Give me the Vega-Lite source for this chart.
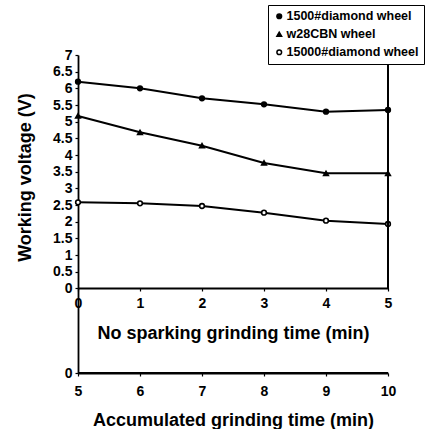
{
  "$schema": "https://vega.github.io/schema/vega-lite/v6.json",
  "width": 310,
  "height": 318,
  "autosize": "none",
  "padding": {"left": 78, "top": 55, "right": 39, "bottom": 56},
  "config": {
    "view": {"stroke": null},
    "font": "Liberation Sans",
    "axis": {
      "domainColor": "black", "tickColor": "black", "labelColor": "black", "titleColor": "black",
      "labelFont": "Liberation Sans", "labelFontWeight": "bold", "labelFontSize": 14,
      "titleFont": "Liberation Sans", "titleFontSize": 18, "titleFontWeight": "bold",
      "grid": false, "domainWidth": 1.8, "tickWidth": 1.2, "labelOverlap": false, "labelFlush": false
    },
    "axisY": {"labelOverlap": false},
    "axisQuantitative": {"labelOverlap": false},
    "legend": {
      "title": null, "orient": "none", "legendX": 190, "legendY": -50,
      "strokeColor": "black", "fillColor": "white", "padding": 5,
      "labelFontSize": 12.5, "labelFontWeight": "bold", "labelColor": "black", "labelFont": "Liberation Sans",
      "rowPadding": 5, "symbolStrokeColor": "black", "symbolStrokeWidth": 1.5, "labelOffset": 1
    }
  },
  "data": {
    "values": [
      {"series": "1500#diamond wheel", "t": 0, "v": 6.2},
      {"series": "1500#diamond wheel", "t": 1, "v": 6.0},
      {"series": "1500#diamond wheel", "t": 2, "v": 5.7},
      {"series": "1500#diamond wheel", "t": 3, "v": 5.52},
      {"series": "1500#diamond wheel", "t": 4, "v": 5.3},
      {"series": "1500#diamond wheel", "t": 5, "v": 5.35},
      {"series": "w28CBN wheel", "t": 0, "v": 5.17},
      {"series": "w28CBN wheel", "t": 1, "v": 4.68},
      {"series": "w28CBN wheel", "t": 2, "v": 4.28},
      {"series": "w28CBN wheel", "t": 3, "v": 3.76},
      {"series": "w28CBN wheel", "t": 4, "v": 3.45},
      {"series": "w28CBN wheel", "t": 5, "v": 3.45},
      {"series": "15000#diamond wheel", "t": 0, "v": 2.58},
      {"series": "15000#diamond wheel", "t": 1, "v": 2.55},
      {"series": "15000#diamond wheel", "t": 2, "v": 2.47},
      {"series": "15000#diamond wheel", "t": 3, "v": 2.27},
      {"series": "15000#diamond wheel", "t": 4, "v": 2.03},
      {"series": "15000#diamond wheel", "t": 5, "v": 1.93}
    ]
  },
  "layer": [
    {
      "layer": [
        {
          "mark": {"type": "line", "color": "black", "strokeWidth": 2},
          "encoding": {
            "x": {
              "field": "t", "type": "quantitative",
              "scale": {"domain": [0, 5], "nice": false},
              "axis": {
                "orient": "bottom", "offset": -85, "values": [0, 1, 2, 3, 4, 5], "format": "d",
                "title": "No sparking grinding time (min)", "tickSize": 3, "labelPadding": 5, "titlePadding": 14
              }
            },
            "y": {
              "field": "v", "type": "quantitative",
              "scale": {"domain": [-2.54, 7], "nice": false, "zero": false},
              "axis": {
                "values": [-2.54, 0, 0.5, 1, 1.5, 2, 2.5, 3, 3.5, 4, 4.5, 5, 5.5, 6, 6.5, 7],
                "labelExpr": "datum.value < 0 ? '0' : format(datum.value, '~g')",
                "title": "Working voltage (V)", "titleX": -44, "titleY": 122,
                "tickSize": 3, "labelPadding": 3, "labelOverlap": false, "labelFlush": false
              }
            },
            "detail": {"field": "series"}
          }
        },
        {
          "mark": {"type": "point", "filled": true, "stroke": "black", "strokeWidth": 1.6, "opacity": 1},
          "encoding": {
            "x": {"field": "t", "type": "quantitative"},
            "y": {
              "field": "v", "type": "quantitative",
              "axis": {
                "values": [-2.54, 0, 0.5, 1, 1.5, 2, 2.5, 3, 3.5, 4, 4.5, 5, 5.5, 6, 6.5, 7],
                "labelExpr": "datum.value < 0 ? '0' : format(datum.value, '~g')",
                "title": "Working voltage (V)", "titleX": -44, "titleY": 122,
                "tickSize": 3, "labelPadding": 3, "labelOverlap": false, "labelFlush": false
              }
            },
            "shape": {
              "field": "series", "type": "nominal", "title": null,
              "scale": {"domain": ["1500#diamond wheel", "w28CBN wheel", "15000#diamond wheel"], "range": ["circle", "triangle-up", "circle"]}
            },
            "color": {
              "field": "series", "type": "nominal", "title": null,
              "scale": {"domain": ["1500#diamond wheel", "w28CBN wheel", "15000#diamond wheel"], "range": ["black", "black", "white"]}
            },
            "size": {
              "field": "series", "type": "nominal", "title": null,
              "scale": {"domain": ["1500#diamond wheel", "w28CBN wheel", "15000#diamond wheel"], "range": [22, 22, 80]}
            }
          }
        },
        {
          "mark": {"type": "rule", "color": "black", "strokeWidth": 1.8},
          "encoding": {
            "x": {"datum": 5, "type": "quantitative"},
            "y": {
              "datum": 0, "type": "quantitative",
              "axis": {
                "values": [-2.54, 0, 0.5, 1, 1.5, 2, 2.5, 3, 3.5, 4, 4.5, 5, 5.5, 6, 6.5, 7],
                "labelExpr": "datum.value < 0 ? '0' : format(datum.value, '~g')",
                "title": "Working voltage (V)", "titleX": -44, "titleY": 122,
                "tickSize": 3, "labelPadding": 3, "labelOverlap": false, "labelFlush": false
              }
            },
            "y2": {"datum": 7}
          }
        }
      ]
    },
    {
      "mark": {"type": "rule", "color": "black", "strokeWidth": 1.8},
      "encoding": {
        "x": {
          "datum": 5, "type": "quantitative",
          "scale": {"domain": [5, 10], "nice": false},
          "axis": {
            "orient": "bottom", "values": [5, 6, 7, 8, 9, 10], "format": "d",
            "title": "Accumulated grinding time (min)", "tickSize": 3, "labelPadding": 8, "titlePadding": 13
          }
        },
        "x2": {"datum": 10},
        "y": {
          "datum": -2.54, "type": "quantitative",
          "axis": {
            "values": [-2.54, 0, 0.5, 1, 1.5, 2, 2.5, 3, 3.5, 4, 4.5, 5, 5.5, 6, 6.5, 7],
            "labelExpr": "datum.value < 0 ? '0' : format(datum.value, '~g')",
            "title": "Working voltage (V)", "titleX": -44, "titleY": 122,
            "tickSize": 3, "labelPadding": 3, "labelOverlap": false, "labelFlush": false
          }
        }
      }
    }
  ],
  "resolve": {"scale": {"x": "independent"}}
}
